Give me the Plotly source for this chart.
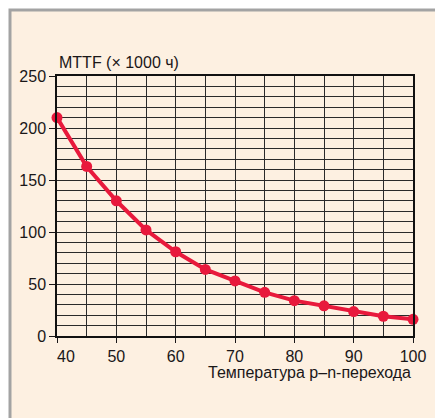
import plotly.graph_objects as go

temperature = [40, 45, 50, 55, 60, 65, 70, 75, 80, 85, 90, 95, 100]
mttf = [210, 163, 130, 102, 81, 64, 53, 42, 34, 29, 23.5, 19, 16]
x_tick_vals = [40, 50, 60, 70, 80, 90, 100]
x_tick_text = ["\u00a0\u00a0\u00a0\u00a040", "50", "60", "70", "80", "90", "100"]
y_tick_vals = [0, 50, 100, 150, 200, 250]
y_title = "MTTF (× 1000 ч)"
x_title = "Температура p–n-перехода"

FONT = "Liberation Sans, Arial, sans-serif"
TXT = "#1a1718"
GRID = "#2a2a2a"
FS = 16

fig = go.Figure()
fig.add_trace(go.Scatter(
    x=temperature, y=mttf, mode="lines+markers",
    line=dict(color="#e8193c", width=4),
    marker=dict(color="#e8193c", size=11),
    cliponaxis=False, hoverinfo="x+y",
))

L, R, T, B = 57, 22, 76, 82
W, H = 435, 418
pw, ph = W - L - R, H - T - B

def px_x(p):
    return (p - L) / pw

def px_y(p):
    return (H - B - p) / ph

fig.add_shape(type="rect", xref="paper", yref="paper",
              x0=px_x(10), x1=px_x(445), y0=px_y(10), y1=px_y(430),
              fillcolor="#fdf0e1", line=dict(color="#a3a3a3", width=3),
              layer="below")

fig.update_layout(
    width=W, height=H,
    margin=dict(l=L, r=R, t=T, b=B, autoexpand=False),
    paper_bgcolor="white", plot_bgcolor="white",
    showlegend=False,
    font=dict(family=FONT, size=FS, color=TXT),
    xaxis=dict(range=[40, 100], tickvals=x_tick_vals, ticktext=x_tick_text,
               ticks="outside", ticklen=5, tickcolor=TXT, tickwidth=1,
               showgrid=True, gridcolor=GRID, gridwidth=1, automargin=False,
               minor=dict(dtick=5, tick0=40, showgrid=True, gridcolor=GRID, gridwidth=1),
               showline=True, linecolor="#111", linewidth=1.5, mirror=True,
               zeroline=False, tickfont=dict(family=FONT, size=FS, color=TXT)),
    yaxis=dict(range=[0, 250], tickvals=y_tick_vals,
               ticks="outside", ticklen=6, tickcolor=TXT, tickwidth=1,
               showgrid=True, gridcolor=GRID, gridwidth=1, automargin=False,
               minor=dict(dtick=10, tick0=0, showgrid=True, gridcolor=GRID, gridwidth=1),
               showline=True, linecolor="#111", linewidth=1.5, mirror=True,
               zeroline=False, tickfont=dict(family=FONT, size=FS, color=TXT)),
    annotations=[
        dict(text=y_title, xref="paper", yref="paper", x=0, y=px_y(63),
             xanchor="left", yanchor="middle", showarrow=False,
             font=dict(family=FONT, size=FS, color=TXT)),
        dict(text=x_title, xref="paper", yref="paper", x=1, y=px_y(372),
             xanchor="right", yanchor="middle", showarrow=False,
             font=dict(family=FONT, size=FS, color=TXT)),
    ],
)

fig.write_html("out.html", config={"displayModeBar": False},
               post_script="document.body.style.margin='0';document.body.style.overflow='hidden';")
